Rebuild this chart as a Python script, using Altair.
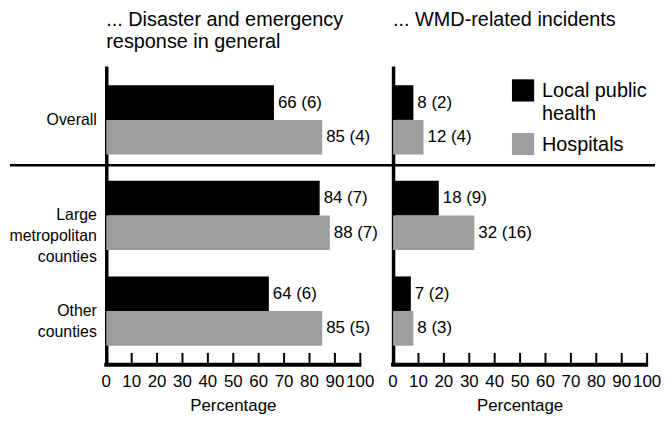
import altair as alt
import pandas as pd

# ---- data ----
categories = ["Overall", "Large metropolitan counties", "Other counties"]
series = ["Local public health", "Hospitals"]
legend_text = ["Local public|health", "Hospitals"]

general_lph = [66, 84, 64]
general_lph_se = [6, 7, 6]
general_hosp = [85, 88, 85]
general_hosp_se = [4, 7, 5]

wmd_lph = [8, 18, 7]
wmd_lph_se = [2, 9, 2]
wmd_hosp = [12, 32, 8]
wmd_hosp_se = [4, 16, 3]

axis_values = [0, 10, 20, 30, 40, 50, 60, 70, 80, 90, 100]
tick_marks = [10, 20, 30, 40, 50, 60, 70, 80, 90, 100]

title_left = ["... Disaster and emergency", "response in general"]
title_right = "... WMD-related incidents"
x_title = "Percentage"

FONT = "Liberation Sans"
W, H = 256, 301
GRAY = "#9e9e9e"


def make_df(lph, lph_se, hosp, hosp_se):
    rows = []
    for i, c in enumerate(categories):
        rows.append({"category": c, "series": series[0], "value": lph[i],
                     "label": f"{lph[i]} ({lph_se[i]})"})
        rows.append({"category": c, "series": series[1], "value": hosp[i],
                     "label": f"{hosp[i]} ({hosp_se[i]})"})
    return pd.DataFrame(rows)


color_scale = alt.Scale(domain=series, range=["#000000", GRAY])
y_scale = alt.Scale(domain=categories, paddingInner=0.275, paddingOuter=0.2)
x_scale = alt.Scale(domain=[0, 100], nice=False, zero=True)
yoff = alt.YOffset("series:N", sort=series,
                   scale=alt.Scale(domain=series, paddingInner=0, paddingOuter=0))

axis_label_df = pd.DataFrame({"value": axis_values,
                              "label": [str(v) for v in axis_values]})
tick_df = pd.DataFrame({"value": tick_marks})
title_df = pd.DataFrame({"title": [x_title]})


def y_enc(show_labels):
    return alt.Y(
        "category:N", sort=categories, scale=y_scale,
        axis=alt.Axis(title=None, ticks=False, grid=False, domain=True,
                      domainColor="black", domainWidth=3.5,
                      labels=show_labels,
                      labelExpr="split(datum.label, ' ')",
                      labelFont=FONT, labelFontSize=16, labelColor="black",
                      labelLineHeight=21, labelPadding=10, labelBaseline="middle"),
    )


def xq():
    return alt.X("value:Q", stack=None, scale=x_scale, axis=None)


def panel(df, show_labels, sep_x1, sep_x2):
    bars = alt.Chart(df).mark_bar().encode(
        x=xq(),
        y=y_enc(show_labels),
        yOffset=yoff,
        color=alt.Color("series:N", scale=color_scale, legend=None),
    )
    text = alt.Chart(df).mark_text(
        align="left", baseline="middle", dx=4, font=FONT, fontSize=17, color="black"
    ).encode(
        x=xq(),
        y=y_enc(show_labels),
        yOffset=yoff,
        text="label:N",
    )
    ticks = alt.Chart(tick_df).mark_tick(
        color="black", thickness=2, size=12, orient="vertical", opacity=1
    ).encode(x=xq(), y=alt.value(H - 6))
    x_domain = alt.Chart(pd.DataFrame({"value": [0]})).mark_rule(
        color="black", strokeWidth=4, clip=False
    ).encode(x=alt.value(-2), x2=alt.value(W + 1), y=alt.value(H))
    x_labels = alt.Chart(axis_label_df).mark_text(
        align="center", baseline="middle", font=FONT, fontSize=17, color="black"
    ).encode(x=xq(), y=alt.value(H + 17), text="label:N")
    x_name = alt.Chart(title_df).mark_text(
        align="center", baseline="middle", font=FONT, fontSize=17, color="black"
    ).encode(x=alt.value(W / 2), y=alt.value(H + 42), text="title:N")
    sep = alt.Chart(pd.DataFrame({"value": [0]})).mark_rule(
        color="black", strokeWidth=2.5, clip=False
    ).encode(x=alt.value(sep_x1), x2=alt.value(sep_x2), y=alt.value(100))
    return alt.layer(bars, text, ticks, x_domain, x_labels, x_name, sep)


left_df = make_df(general_lph, general_lph_se, general_hosp, general_hosp_se)
right_df = make_df(wmd_lph, wmd_lph_se, wmd_hosp, wmd_hosp_se)

left = panel(left_df, True, -97, W + 34).properties(
    width=W, height=H,
    title=alt.TitleParams(title_left, anchor="start", frame="group", font=FONT,
                          fontSize=20, fontWeight="normal", color="black",
                          lineHeight=22, offset=14),
)

legend_df = pd.DataFrame({"series": series, "legend": legend_text})
leg_y = alt.Y("series:N", sort=series,
              scale=alt.Scale(type="point", domain=series, range=[24.5, 78.5], padding=0),
              axis=None)
legend_sq = alt.Chart(legend_df).mark_square(size=500, opacity=1).encode(
    x=alt.value(131), y=leg_y,
    color=alt.Color("series:N", scale=color_scale, legend=None),
)
legend_tx = alt.Chart(legend_df).mark_text(
    align="left", baseline="alphabetic", dy=7, font=FONT, fontSize=20,
    lineBreak="|", lineHeight=23, color="black"
).encode(x=alt.value(150), y=leg_y, text="legend:N")

right = alt.layer(panel(right_df, False, 0, 264), legend_sq, legend_tx).resolve_scale(
    y="independent"
).properties(
    width=W, height=H,
    title=alt.TitleParams(title_right, anchor="start", frame="group", font=FONT,
                          fontSize=20, fontWeight="normal", color="black",
                          offset=14, dy=-22),
)

chart = alt.hconcat(left, right, spacing=33, bounds="flush").properties(
    padding={"left": 0, "top": 1, "right": 0, "bottom": 0}
).configure_view(stroke=None)

chart.save("out.html", embed_options={"renderer": "svg", "actions": False})
